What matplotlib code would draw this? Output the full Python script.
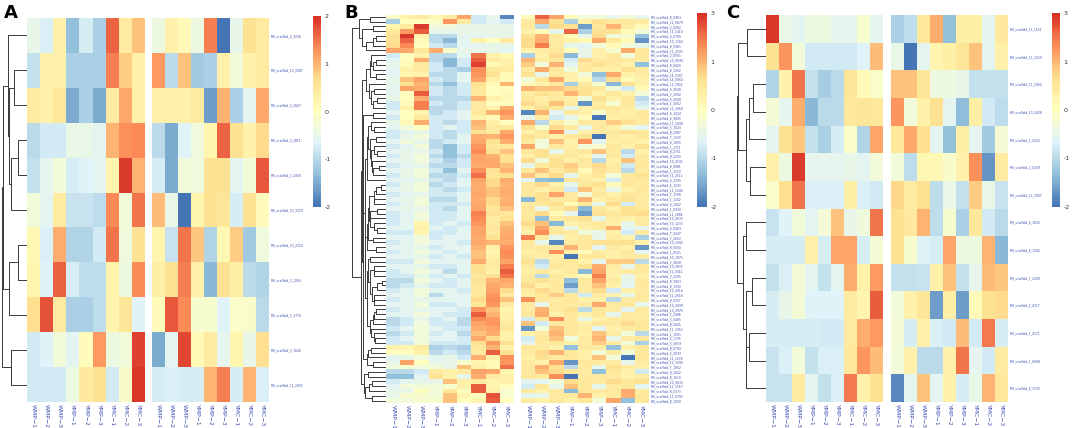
import numpy as np
import matplotlib
matplotlib.use("Agg")
import matplotlib.pyplot as plt
import matplotlib.colors as mcolors
from matplotlib.cm import ScalarMappable

plt.rcParams["axes.unicode_minus"] = False

W, H = 1072, 428

# column names, the 9 samples are shown twice (two blocks)
samples = ["WMP−1", "WMP−2", "WMP−3", "YMP−1", "YMP−2", "YMP−3", "YMC−1", "YMC−2", "YMC−3"]

# panel A
a_genes = ["4_1036", "10_2287", "3_2667", "3_2811", "2_2456", "10_3370",
           "10_2150", "3_1264", "5_1770", "3_1640", "11_2433"]
a_vals = [
    [-0.5, -0.7, 0.3, -1.3, -0.75, -1.1, 1.6, 0.4, 0.9, -0.4, 0.3, 0.1, -0.4, 1.4, -2.0, -0.5, 0.6, 0.4],
    [-0.9, 0.3, 0.3, -1.1, -1.1, -1.1, 1.4, 0.8, 0.3, 1.2, -1.0, 0.9, -1.2, -1.1, 0.3, -0.3, 0.3, 0.4],
    [0.4, 0.3, 0.5, -1.5, -1.1, -1.5, 0.4, 1.1, 0.3, 0.3, 0.3, 0.3, 0.4, -1.6, 1.0, -1.1, -0.6, 1.1],
    [-1.0, -0.8, -0.8, -0.45, -0.45, -0.6, 1.0, 1.3, 1.35, -1.0, -1.5, -0.65, -0.35, 0.2, 1.6, 0.6, 0.3, 0.7],
    [-0.9, -0.55, -0.3, -0.75, -0.65, -0.6, 0.2, 1.9, 1.0, -0.75, -1.5, -0.3, -0.35, 0.6, 0.6, -0.6, -0.3, 1.7],
    [-0.3, -0.6, 0.4, -0.85, -0.85, -0.95, 1.35, -0.3, 1.5, 0.95, -0.45, -2.0, 0.2, 0.6, 0.55, -0.75, 0.6, 0.05],
    [0.15, -0.7, 1.05, -1.05, -1.05, -0.8, 1.5, -0.35, 0.6, 0.2, -0.85, 1.5, 0.85, -1.05, 0.15, 0.8, -1.2, -0.35],
    [0.2, -0.65, 1.6, -0.75, -0.95, -0.95, 0.25, -0.4, 1.35, 0.35, 0.6, 1.4, 0.3, -1.4, 0.6, 0.35, -1.0, -1.05],
    [0.65, 1.75, 0.4, -1.1, -1.1, -0.95, 0.2, 0.55, -0.65, 0.05, 1.7, 1.35, -0.2, -0.2, -0.65, -0.1, -0.15, -1.0],
    [-0.8, -0.65, -0.3, -0.6, 0.05, 1.2, -0.4, -0.3, 1.85, -1.5, -0.6, 1.8, 0.1, 0.4, -0.55, 0.2, -0.5, 0.65],
    [-0.8, -0.8, -0.8, -0.4, 0.45, 0.6, -0.8, -0.15, 1.95, -0.75, -0.7, -0.75, -0.75, 1.0, 1.4, -0.75, 1.0, -0.7],
]

# panel B
b_genes = ["8_0961", "12_0679", "2_0262", "11_1419", "6_0705", "10_1162", "8_0981", "11_2033",
           "2_0931", "10_0690", "8_0420", "8_1202", "14_0307", "14_3664", "11_1832", "6_3028",
           "7_2092", "6_5040", "1_3052", "11_1664", "6_1024", "6_0845", "11_1638", "5_1024",
           "8_2087", "7_1233", "8_1005", "1_2711", "8_2701", "8_2203", "10_4131", "8_0881",
           "1_1110", "11_2511", "6_1705", "6_1223", "11_1040", "7_1706", "1_1102", "6_1047",
           "1_0920", "11_2884", "10_4633", "10_1233", "6_0463", "7_0447", "7_2652", "10_2342",
           "8_0434", "1_0521", "10_1075", "7_2658", "10_0837", "12_0411", "7_2205", "8_0963",
           "8_1393", "10_4414", "11_2618", "8_2317", "10_2099", "10_2976", "7_2488", "3_0485",
           "8_0445", "11_1052", "1_1001", "3_1735", "5_0859", "8_0793", "2_0097", "11_1239",
           "11_1096", "7_1952", "8_1022", "8_1610", "10_0631", "11_1517", "8_0373", "11_0705",
           "8_1000"]
b_vals = [
    [-0.1, 0.3, 0.4, 0.2, 0.4, 1.3, -0.8, -0.5, -1.8, 0.1, 2.2, 1.3, 0.1, -0.3, -0.3, -0.5, -0.3, -0.5],
    [-1.1, 0, 0, -0.1, 1.5, 0.4, -0.8, -0.6, -0.8, 0.4, 1.2, 0.6, -1.1, 0.3, 0.6, 0.5, 0.5, 0.4],
    [0.2, 0.5, 2.8, -0.3, -0.3, -0.5, -0.5, -0.5, -0.5, 0.5, -1.0, 0.7, 0.6, -1.6, 0.5, 1.0, 0.4, 0.1],
    [0.5, 1.4, 2.3, -0.5, -0.5, -0.5, -0.5, -0.5, -0.5, 0.3, 0.1, -0.5, 2.2, -1.1, 0.6, 0.6, 0.1, -0.3],
    [0.6, 2.9, 0.3, -1.0, -1.0, -0.6, -0.6, -0.5, -0.5, 0.6, 1.0, 0.5, 0.1, -0.5, 0.7, -0.3, -0.2, -1.3],
    [0.6, 2.2, 0.1, -1.0, -1.4, -0.6, 0.3, 0, 0.4, 0.7, 1.1, 0.4, 0.3, 0.1, 1.2, 0.5, 0.1, -1.7],
    [0.7, 1.7, 0, -0.8, -1.0, -0.6, -0.6, -0.5, -0.5, 0.7, 1.8, 0.4, -0.5, -0.6, -0.3, 0.1, -0.3, -0.5],
    [1.3, 1.2, 0.5, 1.1, -0.2, -0.5, -0.5, -0.5, -0.6, 0.3, 0.4, 0.5, 0.1, -0.5, 0.3, -0.2, 1.2, 0.5],
    [-0.8, 0, 0.3, -1.0, -1.0, -0.6, 2.0, 0.3, 0.1, -1.1, 0.3, 0.7, -1.4, -0.5, 0.3, 0.4, -0.3, 0.5],
    [-0.6, 0, 1.1, -1.0, -1.4, -0.8, 2.3, 0.4, 0.3, 1.0, 0.4, 0.5, -0.8, 0.7, 0.4, 0.5, 0.4, 0.4],
    [-0.5, 0.1, 0.5, -0.8, -1.4, -0.8, 2.7, 0.1, 0.3, 0.8, -0.3, 1.0, -0.6, 0.4, 0.6, 0.4, 0.3, -1.3],
    [-0.6, 0.3, 0.4, -0.8, -1.0, -1.1, 1.6, 0.5, 0.4, 0.4, 1.2, 0.5, -0.3, 0.5, 0.3, 0.3, 0.6, 0.4],
    [-0.6, 0.2, 0.3, -1.0, -1.0, -0.6, 1.5, 0.6, 0.1, 0.6, -0.5, 0.4, 0.3, -0.3, -1.3, 1.2, 0.3, 0.4],
    [-0.5, 0.9, 1.3, -0.8, -1.0, -0.6, 1.3, 0.3, 0.1, -0.3, 0.5, 1.2, 0.3, 0.1, -1.0, 0.6, 0.1, 0.3],
    [-0.5, 0.6, 1.0, -1.0, -1.3, -0.8, 0.6, 0.1, 1.0, 0.1, 0.3, 0.5, -1.1, 0.4, -0.2, -1.4, 0.6, 0.3],
    [-0.6, 1.3, 1.1, -0.8, -1.0, -0.8, 0.5, 0, 0, 1.0, 0.9, 0.9, 0.7, 0.6, 0.5, -0.3, -0.8, 0.1],
    [-0.6, 0, 2.3, -0.8, -1.0, -0.8, 0.5, 0, 0.1, 0.4, 0.6, 0.5, 1.0, 0.6, 0.3, 0.5, 0.3, -0.3],
    [-0.5, 0, 1.1, -1.0, -1.0, -1.0, 1.0, 0.3, 0.1, 0.5, 0.3, 0.4, 0.3, -0.3, 0.6, 0.3, 0.5, -1.0],
    [-0.8, 0.1, 1.8, -0.8, -1.0, -0.8, 0.4, 0, 0, 0.7, 0.4, 0.9, 0.4, -1.7, 0.4, -0.2, 0.5, -0.8],
    [-0.8, 0.3, 1.8, -1.0, -1.0, -0.8, 0.4, 0.3, 1.1, 0.3, 0.6, 0.5, -0.5, 0.3, 0.5, 0.5, 0.4, -0.5],
    [-0.6, 0, 0.2, -1.0, -0.8, -0.6, 0.5, 1.0, 1.5, -1.8, 1.0, -0.6, 0.5, 0.3, -0.2, 0.4, 0.3, 0.5],
    [-0.8, 0, 0.5, -0.8, -0.8, -0.6, 0.3, 0.1, 1.1, -0.5, 0.4, -0.8, -0.5, 0.1, -2.0, 0.3, 0.4, 0.5],
    [-0.5, 0.1, 1.1, -0.8, -1.0, -0.8, 1.0, 0.3, 0, 1.2, -1.0, 0.3, -0.2, 0.5, 0.4, 0.8, 0.6, 0.4],
    [-0.6, -0.3, 0, -0.8, -0.6, -0.8, 0.9, 0.4, 0.5, 0.6, -0.2, 0.7, 0.4, -0.5, 0.5, 0.3, -0.3, -0.6],
    [-0.8, -0.6, -0.5, -0.8, -1.0, -0.8, 0.6, 0.4, 1.2, 0.3, 0.5, 1.6, -0.6, 0.3, 0.4, 0.5, 0.6, 0.5],
    [-0.8, -0.5, -0.3, -0.8, -1.0, -0.6, 1.1, 1.0, 1.5, 0.6, 0.4, 0.3, 0.5, 0.6, -2.0, 0.4, 0.3, 0.5],
    [-0.6, -0.3, -0.5, -1.0, -0.8, -0.6, 1.2, 0.6, 1.1, 0.4, -0.3, 0.9, 0.3, 1.5, -0.6, 0.3, 0.4, 0.3],
    [-0.8, -0.6, -0.3, -1.0, -1.3, -0.8, 1.5, 0.5, 0.5, 1.3, -0.3, 0.5, 0.3, -0.3, -0.2, 0.5, 0.3, 0.6],
    [-0.6, -0.5, -0.5, -0.8, -1.3, -0.8, 1.7, 0.6, 0.9, 0.5, 0.6, -0.5, 0.4, 0.5, 0.9, 0.4, -1.0, 0.3],
    [-0.8, -0.5, -0.3, -1.0, -1.3, -1.0, 1.3, 1.0, 0.6, 0.3, 0.6, 0.4, 0.5, 0.3, -0.6, 0.5, -0.8, 0.4],
    [-0.6, -0.5, -0.3, -0.8, -1.1, -0.8, 1.3, 1.2, 0.6, 0.7, -0.3, 0.6, 0.3, 0.5, -1.0, 0.3, 0.9, 0.4],
    [-0.8, -0.6, -0.5, -1.0, -1.0, -0.8, 1.1, 1.2, 0.9, -0.5, 0.5, 0.6, 0.8, 0.4, 0.7, 0.4, -0.8, 0.5],
    [-0.6, -0.5, -0.3, -0.8, -1.3, -0.6, 1.6, 0.6, 1.0, 0.5, 0.9, 0.4, 0.7, 0.1, 0.6, 0.4, -1.0, 0.4],
    [-0.8, -0.5, -0.3, -1.0, -1.0, -0.8, 2.1, 0.5, 0.6, 0.9, 0.4, 0.7, -0.5, 0.3, 0.5, -0.3, 0.5, 0.6],
    [-0.6, -0.6, -0.5, -0.8, -1.0, -0.6, 1.3, 0.7, 1.1, -0.6, -1.3, -1.4, 0.5, 0.4, 0.3, -0.8, 0.4, 0.5],
    [-0.8, -0.5, -0.3, -1.0, -0.8, -0.6, 1.1, 0.7, 1.0, 0.4, 0.7, 0.3, -0.5, 0.5, 0.6, 0.1, 0.5, 0.4],
    [-0.6, -0.5, -0.3, -0.8, -1.0, -0.8, 1.1, 0.9, 1.1, 0.5, 0.3, 0.5, -0.8, 0.9, 0.4, -0.5, 0.3, 0.5],
    [-0.8, -0.6, -0.5, -0.8, -0.8, -0.6, 1.2, 0.9, 1.1, 0.5, 0.6, 1.3, 0.4, -0.3, 0.5, 0.3, 0.5, 0.4],
    [-0.6, -0.5, -0.3, -1.0, -1.0, -0.6, 1.1, 0.7, 1.0, -1.4, 0.6, 0.4, 0.5, 1.0, 0.3, 0.5, 0.6, 0.4],
    [-0.8, -0.6, -0.3, -0.8, -0.8, -0.8, 1.2, 0.7, 1.1, 0.4, 0.5, 0.6, 0.1, 0.5, -0.5, 0.7, -0.8, 0.4],
    [-0.6, -0.5, -0.5, -0.8, -1.0, -0.6, 1.3, 0.5, 0.9, 0.5, -0.5, 0.4, 0.7, -1.4, 0.5, 0.3, 0.6, 0.5],
    [-0.8, -0.6, -0.3, -0.8, -0.8, -0.6, 1.8, 0.6, 0.5, 0.4, 0.7, 0.1, -0.6, -1.6, 0.6, 0.5, 0.6, 0.7],
    [-0.8, -0.6, -0.3, -0.8, -0.8, -0.6, 1.7, 0.4, 0.6, 0.5, -1.3, 0.4, 0.5, 0.6, -0.5, 0.4, 0.3, 0.4],
    [-0.8, -0.6, 0.2, -0.8, -0.6, -0.8, 1.5, 0.4, 0.9, 0.7, 0.9, -1.4, 0.3, 0.4, 0.5, 0.3, -0.5, 0.4],
    [-0.6, -0.6, 0.3, -0.6, -0.8, -0.6, 1.3, 0.5, 1.0, 0.4, 1.3, 0.4, -0.5, 0.3, 0.4, 1.1, -0.6, -0.6],
    [-0.8, -0.8, 0.2, -0.8, -0.8, -0.6, 1.3, 0.4, 1.1, 0.3, 1.6, 0.5, 0.4, -0.3, -0.5, 0.3, -0.8, 0.4],
    [-0.6, -0.6, -0.3, -0.8, -0.6, -0.6, 1.1, 0.6, 1.2, 1.8, 0.4, -0.5, 0.3, 0.5, -0.5, 0.4, 0.3, -1.1],
    [-0.8, -0.6, -0.3, -0.6, -0.6, -0.8, 1.2, 1.0, 1.1, 0.5, -0.5, -1.8, 0.4, 0.5, 0.6, 0.6, 0.6, 0.3],
    [-0.6, -0.6, -0.5, -0.8, -0.6, -0.6, 1.0, 0.3, 1.5, 0.4, 0.5, 0.4, 1.0, 0.4, -0.6, 0.4, 0.3, -1.7],
    [-0.8, -0.6, -0.3, -0.6, -0.8, -0.6, 0.9, 0.2, 1.7, 0.3, 0.4, 1.6, 0.3, 0.1, 0.4, 0.3, 0.4, -0.6],
    [-0.6, -0.6, -0.5, -0.8, -0.6, -0.8, 0.9, 0.3, 1.6, 0.4, 0.3, 0.3, -2.0, 0.5, 0.5, 0.3, 0.4, 0.4],
    [-0.8, -0.8, -0.3, -0.6, -0.6, -0.6, 1.1, 0.4, 1.3, 0.6, -1.0, 0.4, 0.5, 0.3, -0.6, 0.8, 0.8, -1.0],
    [-0.6, -0.6, -0.5, -0.8, -0.8, -0.6, 0.6, 0.4, 1.8, 0.4, -0.8, 0.5, 0.4, 0.6, 1.1, 0.4, -0.5, 0.5],
    [-0.8, -0.6, -0.3, -0.6, -1.0, -0.6, 0.6, 0.3, 2.3, 0.3, 0.4, 0.3, 0.5, -1.4, 1.3, 0.3, 0.4, 0.4],
    [-0.8, -0.8, -0.5, -0.8, -0.6, -0.8, 0.5, 0.6, 2.0, 0.4, -1.0, 0.5, 0.3, 0.1, 1.8, 0.3, -0.5, 0.3],
    [-1.0, -1.0, -0.3, -0.6, -0.8, -0.6, 0.6, 1.0, 1.2, 0.5, 0.6, 0.4, -1.3, 0.5, 1.3, 0.4, -0.5, 0.4],
    [-1.0, -0.8, -0.5, -0.8, -0.8, -0.6, 0.5, 1.2, 1.0, 0.7, 0.3, 0.5, -1.6, 0.4, 0.9, 0.3, -0.6, 0.5],
    [-0.8, -0.6, -0.3, -0.6, -0.6, -0.8, 0.5, 1.3, 0.7, 0.4, 0.7, 0.5, -1.0, 0.4, 0.7, -0.8, 0.3, 0.4],
    [-0.6, -0.6, -0.3, -1.0, -0.6, -0.6, 0.5, 1.5, 0.4, 0.3, 0.5, 0.8, 0.5, -0.8, 0.4, 0.3, -0.5, 0.5],
    [-0.8, -0.6, -0.5, -0.6, -0.6, -0.6, 0.7, 1.6, 0.9, 1.6, 0.5, 0.4, 0.5, 0.3, 0.3, -1.0, 0.4, 0.4],
    [-0.6, -0.6, -0.3, -0.8, -0.8, -0.6, 0.5, 1.5, 0.4, 0.4, -0.5, 0.5, 0.4, 0.4, 1.2, 0.4, 0.5, -0.5],
    [-0.8, -0.6, -0.5, -0.6, -0.6, -0.8, 1.5, 0.9, 0.2, 0.4, 1.0, 0.4, 0.6, -1.0, 0.5, 0.4, -0.6, 0.5],
    [-0.6, -0.6, -0.3, -0.6, -0.8, -0.8, 2.3, 1.0, 0.3, 0.5, 1.1, 0.3, 0.5, 0.3, 0.5, -0.5, 0.4, 0.4],
    [-1.0, -0.8, -0.5, -0.8, -0.6, -1.0, 1.7, 1.4, 0.3, -0.8, 0.5, 1.7, 0.4, -0.5, 0.3, 0.4, 0.5, 0.4],
    [-1.0, -0.8, -0.3, -0.8, -0.8, -1.0, 1.3, 1.5, 0.4, 0.9, -0.8, 0.4, 0.5, 0.3, 0.5, 0.4, 0.7, 0.5],
    [-0.8, -0.6, -0.3, -0.6, -0.8, -0.8, 1.1, 1.3, 0.5, -1.7, -0.3, 0.9, 0.5, 0.4, -0.6, 0.3, 0.4, 0.5],
    [-1.0, -0.8, -0.3, -0.8, -0.6, -1.0, 0.9, 1.1, 0.3, 0.3, 0.4, 1.0, 0.5, 0.3, 0.9, 0.4, -0.3, -1.0],
    [-0.8, -0.6, -0.3, -0.6, -0.6, -0.8, 1.2, 0.7, 0.3, -0.8, 0.5, 0.9, -0.3, 0.4, 1.0, -0.5, 0.4, 0.5],
    [-0.8, -0.8, -0.3, -0.8, -0.8, -0.8, 0.6, 1.4, 0.6, -0.6, 0.4, 0.5, 0.3, 0.4, 0.8, 0.4, -0.3, -1.1],
    [0.3, 0.2, 0.4, -1.1, -1.0, -1.1, 0.5, 1.0, 0.3, 0.5, 0.4, 0.3, -1.3, 0.4, 0.4, -1.3, 0.3, 0.5],
    [0, 0, 0.3, -1.0, -0.8, -1.0, 0.4, 2.3, 0.6, 0.4, 0.7, 1.0, 0.5, 0.3, -0.3, 0.4, -0.3, 0.5],
    [-0.6, -0.5, -0.3, -0.6, -0.5, -0.8, 1.1, 0.3, 1.6, 0.3, 0.6, 0.4, 0.5, 0.3, 0.9, -0.3, -2.0, 0.5],
    [-0.5, 1.3, 0, -0.5, -0.5, -0.2, 0.2, 0.1, 1.5, 0.4, 0.3, 1.2, -1.7, 0.5, 0.4, 0.4, -0.5, 0.4],
    [-0.3, -0.2, -0.3, -0.3, -0.5, 0.9, 0.3, 0.1, 2.1, 0.5, 1.1, 0.6, -1.0, 0.4, -0.5, 0.6, 0.4, 0.3],
    [-1.0, -1.0, -0.8, 0.4, 0.3, 0.4, 1.3, 1.2, 0.2, 0.4, 0.9, 0.7, 0.5, 0.4, -1.3, 0.5, 0.3, -0.8],
    [-1.3, -1.3, -0.6, 0.6, 0.3, -0.5, 1.1, 0.4, 0.3, 0.5, 0.4, 1.6, -2.0, 0.4, 0.5, 0.4, 0.3, 0.4],
    [-0.8, -0.6, -0.5, -0.5, 0.9, 0.3, 0.4, 0.2, 0.3, -0.6, -0.6, -0.3, 0.7, 0.5, 0.4, 0.7, 0.5, 0.6],
    [-0.6, -0.3, -0.3, -0.3, -0.2, 0.3, 2.3, 0.2, 0, -0.8, 0.5, -0.5, 0.9, 0.5, -0.5, 0.4, 0.5, -0.6],
    [-0.5, -0.5, 0, -0.3, 0.5, 0, 2.3, 0.3, -0.2, 0.5, 0.3, 0.4, -1.4, 0.5, 0.4, 0.5, 1.2, 0.4],
    [-0.5, -0.2, -0.2, -0.3, 0.9, 0.2, 0, 2.5, -0.2, -0.6, -0.5, 0.4, 0.5, 1.0, 0.3, 0.4, 1.1, 0.5],
    [-0.3, -0.3, -0.2, -0.2, 0.9, 0, 0.2, 2.3, 0, 0.4, 0.3, 0.5, 0.3, 0.5, -0.3, 1.3, -1.3, 0.5],
]

# panel C
c_genes = ["11_1161", "11_2259", "11_1964", "10_2438", "3_0322", "2_0209", "11_2087",
           "4_1616", "8_1344", "7_2589", "2_4117", "1_4171", "1_0608", "8_1730"]
c_vals = [
    [2.9, -0.45, -0.6, -0.4, -0.4, -0.55, -0.55, -0.2, -0.6, -1.1, -0.95, 0.5, 1.1, -1.3, 0.35, 0.35, -0.6, 0.45],
    [0.6, 1.5, -0.3, -0.8, -0.8, -0.8, -0.8, -0.65, 0.95, -0.45, -2.0, -0.6, 0.2, 0.35, 0.55, 0.9, -0.6, 0.3],
    [-1.05, 0.3, 2.0, -0.9, -1.15, -1.0, 0.55, 0.1, -0.1, 0.9, 0.9, 0.55, -0.4, -0.4, -0.5, -0.9, -0.9, -0.9],
    [-0.25, -0.55, 1.1, -1.4, -1.0, -1.0, 0.5, 0.55, 0.5, 1.5, -0.3, 0.3, 0.6, -0.6, -1.35, 0.35, -0.8, -0.95],
    [-0.6, 0.6, 0.85, -0.9, -1.1, -0.75, -0.1, -1.05, 1.3, 0.5, 1.2, 0.65, -0.6, -1.3, 0.35, -0.55, -1.2, -0.25],
    [0.3, -0.4, 2.8, -0.55, -0.55, -0.55, -0.5, -0.6, -0.3, -0.3, -0.95, 0.15, 0.15, -0.15, 0.3, 1.6, -1.7, 0.4],
    [-0.1, 0.65, 2.0, -0.7, -0.7, -0.7, 0.35, -0.7, -0.8, 0.75, 0.4, 0.6, -0.95, -0.45, -0.9, 0.8, -0.45, -0.85],
    [-0.85, -0.65, -0.3, -0.6, -0.25, 0.9, -0.5, -0.35, 2.0, 0.6, 0.45, 1.0, -0.95, -0.2, -1.1, 0.5, -0.8, -1.0],
    [-0.75, -0.75, -0.75, 0.3, -0.75, 1.3, 1.3, -0.75, -0.25, 0.6, -0.2, -0.65, -0.75, 1.25, -0.4, -0.4, 1.0, -1.4],
    [-0.9, -0.7, -0.25, -0.6, -0.9, -0.6, 1.1, 0.3, 1.45, -0.9, -0.9, -0.85, 0.3, 0.9, -0.9, -0.55, 0.95, 0.85],
    [-0.75, -0.5, -0.25, -0.65, -0.65, -0.65, 0.4, 0.2, 2.3, -0.3, 0.3, 0.55, -1.6, 0.35, -1.6, 0.1, 0.6, 0.7],
    [-0.75, -0.75, -0.75, -0.75, -0.8, -0.8, 0.4, 1.1, 1.4, -0.25, -0.75, 0.3, -0.7, -0.8, 0.95, -0.8, 1.9, -0.75],
    [-0.85, -0.7, -0.3, -0.9, -0.7, -0.7, 0.5, 1.5, 0.95, -0.3, 0.3, -1.0, -1.0, 0.3, 2.0, -0.55, -0.8, 0.4],
    [-0.85, -0.85, 0.4, -0.6, -0.9, -0.7, 1.9, 0.3, 0.6, -1.8, -0.6, 0.9, -0.6, 0.3, -0.75, -0.45, 1.0, 0.5],
]

a_ticks = [2, 1, 0, -1, -2]
bc_ticks = [3, 1, 0, -1, -2]
bc_levels = [-2, -1, 0, 1, 3]

lab_col = "#3f4fae"
cmap = mcolors.LinearSegmentedColormap.from_list(
    "rdylbu", ["#4575B4", "#91BFDB", "#E0F3F8", "#FFFFBF", "#FEE090", "#FC8D59", "#D73027"], N=100)

norm_a = mcolors.Normalize(vmin=-2, vmax=2)
lvl_pos = np.linspace(0, 1, len(bc_levels))
norm_bc = mcolors.FuncNorm((lambda v: np.interp(v, bc_levels, lvl_pos),
                            lambda u: np.interp(u, lvl_pos, bc_levels)), vmin=-2, vmax=3)


def box(x0, y0, x1, y1):
    return fig.add_axes([x0 / W, 1 - y1 / H, (x1 - x0) / W, (y1 - y0) / H])


def tree_links(vals):
    # complete linkage, only neighbouring groups may merge (keeps the shown row order)
    v = np.asarray(vals, dtype=float)
    d = np.sqrt(((v[:, None, :] - v[None, :, :]) ** 2).sum(-1))
    groups = [[i] for i in range(len(v))]
    pos = [i + 0.5 for i in range(len(v))]
    hgt = [0.0] * len(v)
    links = []
    while len(groups) > 1:
        dists = [d[np.ix_(groups[k], groups[k + 1])].max() for k in range(len(groups) - 1)]
        k = int(np.argmin(dists))
        h = max(dists[k], hgt[k], hgt[k + 1])
        links.append((pos[k], hgt[k], pos[k + 1], hgt[k + 1], h))
        groups[k:k + 2] = [groups[k] + groups[k + 1]]
        pos[k:k + 2] = [(pos[k] + pos[k + 1]) / 2]
        hgt[k:k + 2] = [h]
    return links


def clean(ax):
    for s in ax.spines.values():
        s.set_visible(False)
    ax.tick_params(length=0)


def panel(letter, vals, genes, norm, ticks, xs, y0, y1, cbx, lx):
    vals = np.asarray(vals, dtype=float)
    n = len(vals)
    fig.text(lx / W, 1 - 4 / H, letter, fontsize=13, fontweight="bold", va="top", ha="left")

    # dendrogram
    dax = box(xs[0], y0, xs[1], y1)
    links = tree_links(vals)
    for pl, hl, pr, hr, h in links:
        dax.plot([hl, h, h, hr], [pl, pl, pr, pr], color="#3a3a3a", lw=0.7, solid_capstyle="butt")
    dax.set_xlim(links[-1][4] * 1.01, 0)
    dax.set_ylim(n, 0)
    dax.set_xticks([])
    dax.set_yticks([])
    clean(dax)

    # two heat blocks
    for b, (hx0, hx1) in enumerate([(xs[1], xs[2]), (xs[3], xs[4])]):
        ax = box(hx0, y0, hx1, y1)
        ax.pcolormesh(np.arange(10), np.arange(n + 1), vals[:, 9 * b:9 * b + 9],
                      cmap=cmap, norm=norm, shading="flat")
        ax.set_xlim(0, 9)
        ax.set_ylim(n, 0)
        ax.set_xticks(np.arange(9) + 0.5)
        ax.set_xticklabels(samples, rotation=270, fontsize=4.4, color=lab_col, va="top", ha="center")
        ax.tick_params(axis="x", pad=1.5)
        if b == 1:
            ax.yaxis.tick_right()
            ax.set_yticks(np.arange(n) + 0.5)
            ax.set_yticklabels(["PHI_scaffold_" + g for g in genes], fontsize=2.2, color=lab_col)
            ax.tick_params(axis="y", pad=1.5)
        else:
            ax.set_yticks([])
        clean(ax)

    # colour key
    cax = box(cbx[0], cbx[1], cbx[2], cbx[3])
    cb = fig.colorbar(ScalarMappable(norm=norm, cmap=cmap), cax=cax, ticks=ticks)
    cb.outline.set_visible(False)
    cax.tick_params(length=0, labelsize=4.6, pad=2.5, labelcolor="#333333")


fig = plt.figure(figsize=(W / 100, H / 100), dpi=100)

panel("A", a_vals, a_genes, norm_a, a_ticks, [2, 27, 145, 152, 269], 18, 402, [313, 16, 321, 207], 4)
panel("B", b_vals, b_genes, norm_bc, bc_ticks, [352, 386, 514, 521, 649], 14.5, 403, [697, 13, 707, 207], 344)
panel("C", c_vals, c_genes, norm_bc, bc_ticks, [737, 766, 883, 891, 1008], 15, 402, [1052, 13, 1060, 207], 726)

fig.savefig("out.png", dpi=100)
